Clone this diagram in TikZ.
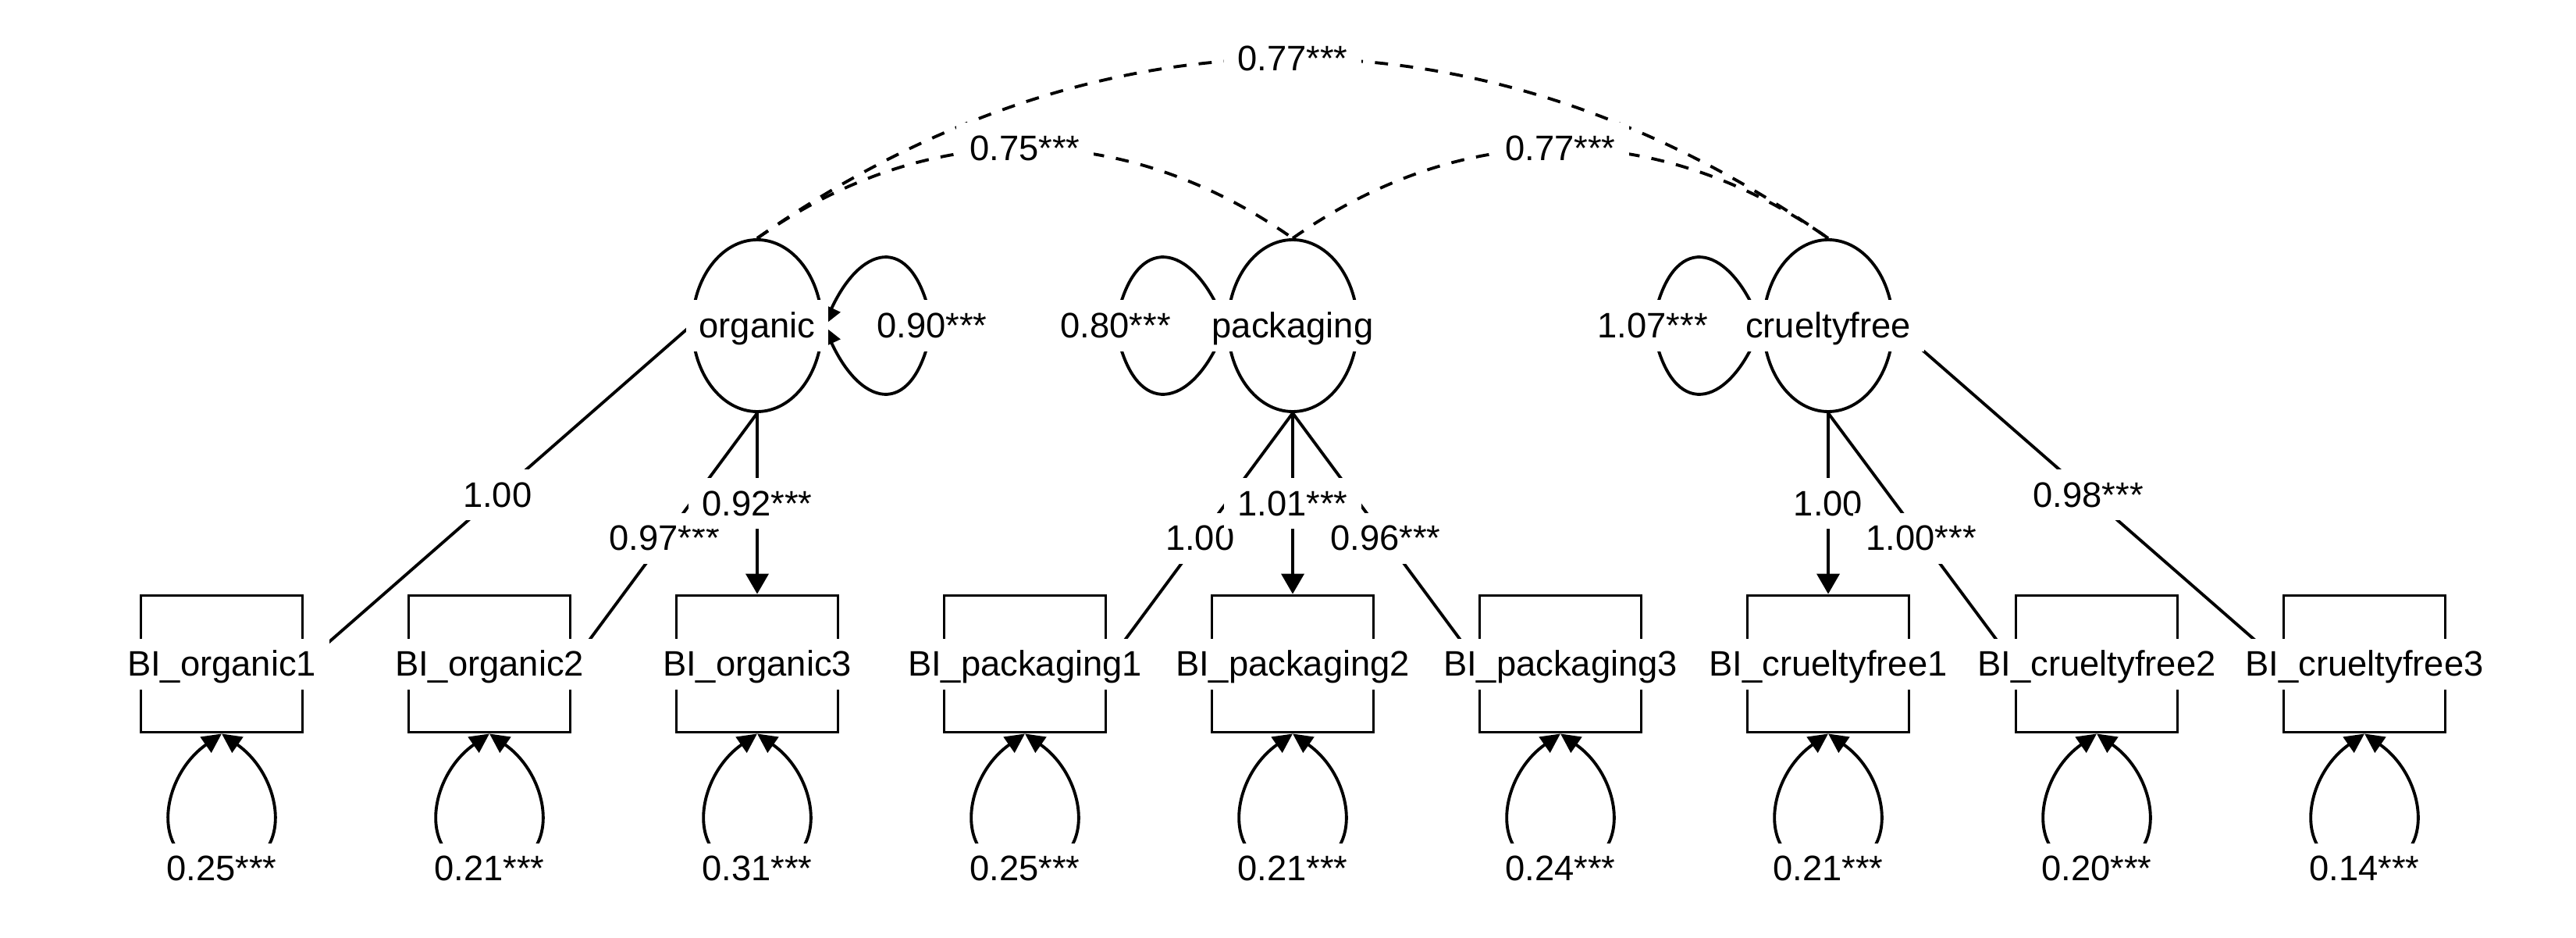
\documentclass[tikz,border=0pt]{standalone}
\usepackage{fontspec}
\setmainfont{Liberation Sans}
\usetikzlibrary{arrows.meta,shapes.geometric}
\tikzset{
  every node/.style={font=\fontsize{12.9pt}{15pt}\selectfont},
  lat/.style={draw, ellipse, minimum width=1.66cm, minimum height=2.2cm, inner sep=0pt, line width=1.1pt},
  obs/.style={draw, rectangle, minimum width=2.07cm, minimum height=1.75cm, inner sep=0pt, line width=1.1pt},
  txt/.style={fill=white, inner xsep=0.17cm, inner ysep=0.1cm, text height=0.38cm, text depth=0.07cm},
  load/.style={line width=1.1pt, -{Triangle[length=2.6mm,width=2.9mm]}},
  var/.style={line width=1.1pt, {Triangle[length=2.5mm,width=2.4mm]}-{Triangle[length=2.5mm,width=2.4mm]}},
  cov/.style={line width=1.1pt, dash pattern=on 4.8pt off 4.4pt},
}
\begin{document}
\begin{tikzpicture}
    \useasboundingbox (0,0) rectangle (33,12);
    % latent factors
    \node[lat] at (9.70,7.83) (organic) {};
    \node[lat] at (16.56,7.83) (packaging) {};
    \node[lat] at (23.42,7.83) (crueltyfree) {};
    % indicators
    \node[obs] at (2.84,3.50) (org1) {};
    \node[obs] at (6.27,3.50) (org2) {};
    \node[obs] at (9.70,3.50) (org3) {};
    \node[obs] at (13.13,3.50) (pack1) {};
    \node[obs] at (16.56,3.50) (pack2) {};
    \node[obs] at (19.99,3.50) (pack3) {};
    \node[obs] at (23.42,3.50) (cruel1) {};
    \node[obs] at (26.86,3.50) (cruel2) {};
    \node[obs] at (30.29,3.50) (cruel3) {};
    % covariances
    \draw[cov] (organic.north) to[out=35,in=145] node[txt] {0.77***} (crueltyfree.north);
    \draw[cov] (organic.north) to[out=35,in=145] node[txt] {0.75***} (packaging.north);
    \draw[cov] (packaging.north) to[out=35,in=145] node[txt] {0.77***} (crueltyfree.north);
    % factor variances
    \draw[var] (organic.east) .. controls +(65:1.2) and +(100:1.2) .. ++(1.39,0) node[txt] {0.90***} .. controls +(-100:1.2) and +(-65:1.2) .. (organic.east);
    \draw[var] (packaging.west) .. controls +(115:1.2) and +(80:1.2) .. ++(-1.42,0) node[txt] {0.80***} .. controls +(-80:1.2) and +(-115:1.2) .. (packaging.west);
    \draw[var] (crueltyfree.west) .. controls +(115:1.2) and +(80:1.2) .. ++(-1.40,0) node[txt] {1.07***} .. controls +(-80:1.2) and +(-115:1.2) .. (crueltyfree.west);
    % loadings
    \draw[load] (organic.west) -- node[txt] {1.00} (org1.east);
    \draw[load] (organic.south) -- node[txt] {0.97***} (org2.east);
    \draw[load] (organic.south) -- node[txt] {0.92***} (org3.north);
    \draw[load] (packaging.south) -- node[txt] {1.00} (pack1.east);
    \draw[load] (packaging.south) -- (pack3.west);
    \draw[load] (packaging.south) -- node[txt] {1.01***} (pack2.north);
    \path (packaging.south) -- node[txt] {0.96***} (pack3.west);
    \draw[load] (crueltyfree.south) -- node[txt] {1.00} (cruel1.north);
    \draw[load] (crueltyfree.south) -- node[txt] {1.00***} (cruel2.west);
    \draw[load] (crueltyfree.east) -- node[txt] {0.98***} (cruel3.west);
    % residual variances
    \draw[var] (org1.south) .. controls +(-145:1) and +(180:0.95) .. ++(0,-1.73) node[txt] {0.25***} .. controls +(0:0.95) and +(-35:1) .. (org1.south);
    \draw[var] (org2.south) .. controls +(-145:1) and +(180:0.95) .. ++(0,-1.73) node[txt] {0.21***} .. controls +(0:0.95) and +(-35:1) .. (org2.south);
    \draw[var] (org3.south) .. controls +(-145:1) and +(180:0.95) .. ++(0,-1.73) node[txt] {0.31***} .. controls +(0:0.95) and +(-35:1) .. (org3.south);
    \draw[var] (pack1.south) .. controls +(-145:1) and +(180:0.95) .. ++(0,-1.73) node[txt] {0.25***} .. controls +(0:0.95) and +(-35:1) .. (pack1.south);
    \draw[var] (pack2.south) .. controls +(-145:1) and +(180:0.95) .. ++(0,-1.73) node[txt] {0.21***} .. controls +(0:0.95) and +(-35:1) .. (pack2.south);
    \draw[var] (pack3.south) .. controls +(-145:1) and +(180:0.95) .. ++(0,-1.73) node[txt] {0.24***} .. controls +(0:0.95) and +(-35:1) .. (pack3.south);
    \draw[var] (cruel1.south) .. controls +(-145:1) and +(180:0.95) .. ++(0,-1.73) node[txt] {0.21***} .. controls +(0:0.95) and +(-35:1) .. (cruel1.south);
    \draw[var] (cruel2.south) .. controls +(-145:1) and +(180:0.95) .. ++(0,-1.73) node[txt] {0.20***} .. controls +(0:0.95) and +(-35:1) .. (cruel2.south);
    \draw[var] (cruel3.south) .. controls +(-145:1) and +(180:0.95) .. ++(0,-1.73) node[txt] {0.14***} .. controls +(0:0.95) and +(-35:1) .. (cruel3.south);
    % names on top
    \node[txt] at (organic) (organic-t) {organic};
    \node[txt] at (packaging) (packaging-t) {packaging};
    \node[txt] at (crueltyfree) (crueltyfree-t) {crueltyfree};
    \node[txt] at (org1) (org1-t) {BI\_organic1};
    \node[txt] at (org2) (org2-t) {BI\_organic2};
    \node[txt] at (org3) (org3-t) {BI\_organic3};
    \node[txt] at (pack1) (pack1-t) {BI\_packaging1};
    \node[txt] at (pack2) (pack2-t) {BI\_packaging2};
    \node[txt] at (pack3) (pack3-t) {BI\_packaging3};
    \node[txt] at (cruel1) (cruel1-t) {BI\_crueltyfree1};
    \node[txt] at (cruel2) (cruel2-t) {BI\_crueltyfree2};
    \node[txt] at (cruel3) (cruel3-t) {BI\_crueltyfree3};
\end{tikzpicture}
\end{document}
